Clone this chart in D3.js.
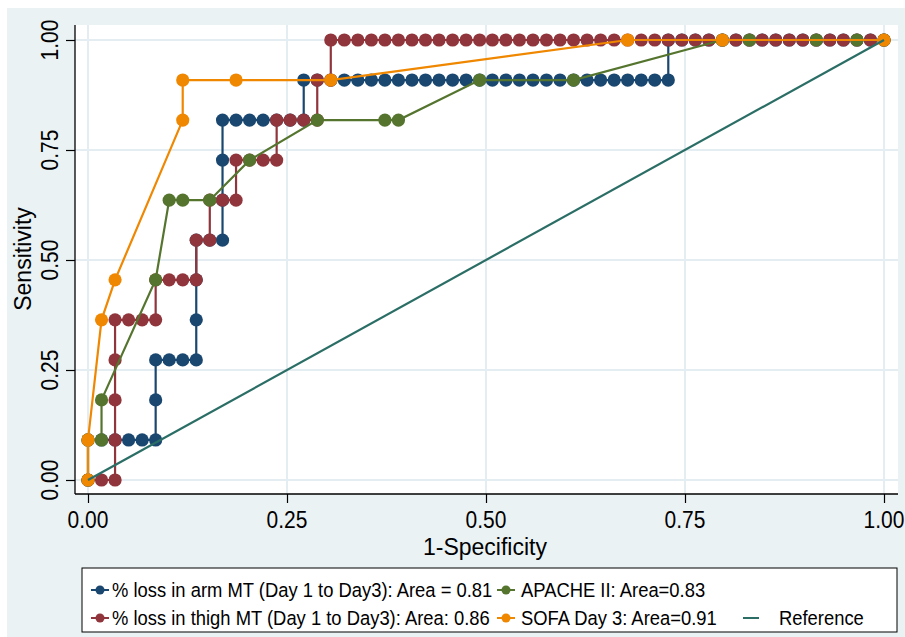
<!DOCTYPE html>
<html><head><meta charset="utf-8">
<script src="https://cdn.jsdelivr.net/npm/d3@7"></script>
<style>body{margin:0;background:#fff}svg{display:block}text{font-family:"Liberation Sans",Arial,sans-serif}</style>
</head><body><div id="chart"></div>
<script>
// ---- data (1-Specificity, Sensitivity) ----
const xTicks = [0, 0.25, 0.5, 0.75, 1];
const yTicks = [0, 0.25, 0.5, 0.75, 1];
const xTickLabels = ["0.00", "0.25", "0.50", "0.75", "1.00"];
const yTickLabels = ["0.00", "0.25", "0.50", "0.75", "1.00"];

const armX = [0,0,0.017,0.034,0.051,0.068,0.085,0.085,0.085,0.102,0.119,0.136,0.136,0.136,0.136,0.153,0.169,0.169,0.169,0.169,0.186,0.203,0.220,0.237,0.254,0.271,0.271,0.288,0.305,0.322,0.339,0.356,0.373,0.390,0.407,0.424,0.441,0.458,0.475,0.492,0.508,0.525,0.542,0.559,0.576,0.593,0.610,0.627,0.644,0.661,0.678,0.695,0.712,0.729,0.729,0.746,0.763,0.780,0.797,0.814,0.831,0.847,0.864,0.881,0.898,0.915,0.932,0.949,0.966,0.983,1];
const armY = [0,0.091,0.091,0.091,0.091,0.091,0.091,0.182,0.273,0.273,0.273,0.273,0.364,0.455,0.545,0.545,0.545,0.636,0.727,0.818,0.818,0.818,0.818,0.818,0.818,0.818,0.909,0.909,0.909,0.909,0.909,0.909,0.909,0.909,0.909,0.909,0.909,0.909,0.909,0.909,0.909,0.909,0.909,0.909,0.909,0.909,0.909,0.909,0.909,0.909,0.909,0.909,0.909,0.909,1,1,1,1,1,1,1,1,1,1,1,1,1,1,1,1,1];

const thighX = [0,0.017,0.034,0.034,0.034,0.034,0.034,0.051,0.068,0.085,0.085,0.102,0.119,0.136,0.136,0.153,0.153,0.169,0.186,0.186,0.203,0.220,0.237,0.237,0.254,0.271,0.288,0.288,0.305,0.305,0.322,0.339,0.356,0.373,0.390,0.407,0.424,0.441,0.458,0.475,0.492,0.508,0.525,0.542,0.559,0.576,0.593,0.610,0.627,0.644,0.661,0.678,0.695,0.712,0.729,0.746,0.763,0.780,0.797,0.814,0.831,0.847,0.864,0.881,0.898,0.915,0.932,0.949,0.966,0.983,1];
const thighY = [0,0,0,0.091,0.182,0.273,0.364,0.364,0.364,0.364,0.455,0.455,0.455,0.455,0.545,0.545,0.636,0.636,0.636,0.727,0.727,0.727,0.727,0.818,0.818,0.818,0.818,0.909,0.909,1,1,1,1,1,1,1,1,1,1,1,1,1,1,1,1,1,1,1,1,1,1,1,1,1,1,1,1,1,1,1,1,1,1,1,1,1,1,1,1,1,1];

const apacheX = [0,0,0.017,0.017,0.085,0.102,0.119,0.153,0.203,0.288,0.373,0.390,0.492,0.610,0.797,0.831,0.915,0.966,1];
const apacheY = [0,0.091,0.091,0.182,0.455,0.636,0.636,0.636,0.727,0.818,0.818,0.818,0.909,0.909,1,1,1,1,1];

const sofaX = [0,0,0.017,0.034,0.119,0.119,0.186,0.305,0.678,0.797,1];
const sofaY = [0,0.091,0.364,0.455,0.818,0.909,0.909,0.909,1,1,1];

const refX = [0, 1];
const refY = [0, 1];

const seriesNames = ["% loss in arm MT (Day 1 to Day3): Area = 0.81",
  "% loss in thigh MT (Day 1 to Day3): Area: 0.86",
  "APACHE II: Area=0.83",
  "SOFA Day 3: Area=0.91",
  "Reference"];
const colors = ["#1a476f", "#90353b", "#55752f", "#ef8700", "#2b6e66"];

// ---- drawing ----
const W = 905, H = 637;
const SY = 1.1; // vertical text stretch
const svg = d3.select("#chart").append("svg").attr("width", W).attr("height", H);
svg.append("rect").attr("x", 7).attr("y", 8).attr("width", W - 7).attr("height", H - 8).attr("fill", "#eaf2f4");

const x = d3.scaleLinear().domain([0, 1]).range([88, 884]);
const y = d3.scaleLinear().domain([0, 1]).range([480, 40]);
const plotL = 75, plotR = 898, plotT = 25, plotB = 494;

svg.append("rect").attr("x", plotL).attr("y", plotT).attr("width", plotR - plotL).attr("height", plotB - plotT).attr("fill", "#fff");

// gridlines
const gridC = "#e4edf1";
svg.append("g").selectAll("line").data(xTicks).join("line")
  .attr("x1", d => x(d)).attr("x2", d => x(d)).attr("y1", plotT).attr("y2", plotB)
  .attr("stroke", gridC).attr("stroke-width", 2);
svg.append("g").selectAll("line").data(yTicks).join("line")
  .attr("y1", d => y(d)).attr("y2", d => y(d)).attr("x1", plotL).attr("x2", plotR)
  .attr("stroke", gridC).attr("stroke-width", 2);

// axes (tick marks from d3 axes)
const gx = svg.append("g").attr("transform", `translate(0,${plotB})`)
  .call(d3.axisBottom(x).tickValues(xTicks).tickFormat("").tickSize(9));
gx.select(".domain").remove();
gx.selectAll(".tick line").attr("stroke", "#000").attr("stroke-width", 1.2);
const gy = svg.append("g").attr("transform", `translate(${plotL},0)`)
  .call(d3.axisLeft(y).tickValues(yTicks).tickFormat("").tickSize(9));
gy.select(".domain").remove();
gy.selectAll(".tick line").attr("stroke", "#000").attr("stroke-width", 1.2);

// tick labels
svg.append("g").selectAll("text").data(xTicks).join("text")
  .attr("transform", d => `translate(${x(d)},528) scale(1,${SY})`)
  .attr("text-anchor", "middle").attr("font-size", 21).text((d, i) => xTickLabels[i]);
svg.append("g").selectAll("text").data(yTicks).join("text")
  .attr("transform", d => `translate(58,${y(d)}) rotate(-90) scale(1,${SY})`)
  .attr("text-anchor", "middle").attr("font-size", 21).text((d, i) => yTickLabels[i]);

svg.append("line").attr("x1", plotL).attr("x2", plotL).attr("y1", plotT).attr("y2", plotB).attr("stroke", "#000").attr("stroke-width", 1.3);
svg.append("line").attr("x1", plotL).attr("x2", plotR).attr("y1", plotB).attr("y2", plotB).attr("stroke", "#000").attr("stroke-width", 1.3);

svg.append("text").attr("x", x(0.5) - 1).attr("y", 555).attr("text-anchor", "middle").attr("font-size", 23).text("1-Specificity");
svg.append("text").attr("transform", `translate(31,${y(0.5) - 1}) rotate(-90)`).attr("text-anchor", "middle").attr("font-size", 23).text("Sensitivity");

// series
const series = [
  d3.zip(armX, armY), d3.zip(thighX, thighY), d3.zip(apacheX, apacheY), d3.zip(sofaX, sofaY)
];
const line = d3.line().x(d => x(d[0])).y(d => y(d[1]));
const R = 6.6;
series.forEach((pts, i) => {
  const g = svg.append("g");
  g.append("path").attr("d", line(pts)).attr("fill", "none").attr("stroke", colors[i]).attr("stroke-width", 2.2);
  g.selectAll("circle").data(pts).join("circle")
    .attr("cx", d => x(d[0])).attr("cy", d => y(d[1])).attr("r", R).attr("fill", colors[i]);
});
svg.append("path").attr("d", line(d3.zip(refX, refY))).attr("fill", "none").attr("stroke", colors[4]).attr("stroke-width", 2.2);

// legend
const lg = svg.append("g");
lg.append("rect").attr("x", 82).attr("y", 568).attr("width", 815).attr("height", 64).attr("fill", "#fff").attr("stroke", "#000").attr("stroke-width", 1);
const legItems = [
  {i: 0, sx: 100, tx: 112, yy: 590},
  {i: 1, sx: 100, tx: 112, yy: 618},
  {i: 2, sx: 506, tx: 521, yy: 590},
  {i: 3, sx: 506, tx: 521, yy: 618},
  {i: 4, sx: 751, tx: 779, yy: 618}
];
legItems.forEach(it => {
  if (it.i < 4) {
    lg.append("line").attr("x1", it.sx - 9).attr("x2", it.sx + 9).attr("y1", it.yy).attr("y2", it.yy).attr("stroke", colors[it.i]).attr("stroke-width", 2);
    lg.append("circle").attr("cx", it.sx).attr("cy", it.yy).attr("r", 4.5).attr("fill", colors[it.i]);
  } else {
    lg.append("line").attr("x1", it.sx - 8).attr("x2", it.sx + 8).attr("y1", it.yy).attr("y2", it.yy).attr("stroke", colors[it.i]).attr("stroke-width", 2);
  }
  lg.append("text").attr("transform", `translate(${it.tx},${it.yy + 7}) scale(1,${SY})`).attr("font-size", 18.4).text(seriesNames[it.i]);
});
</script></body></html>
